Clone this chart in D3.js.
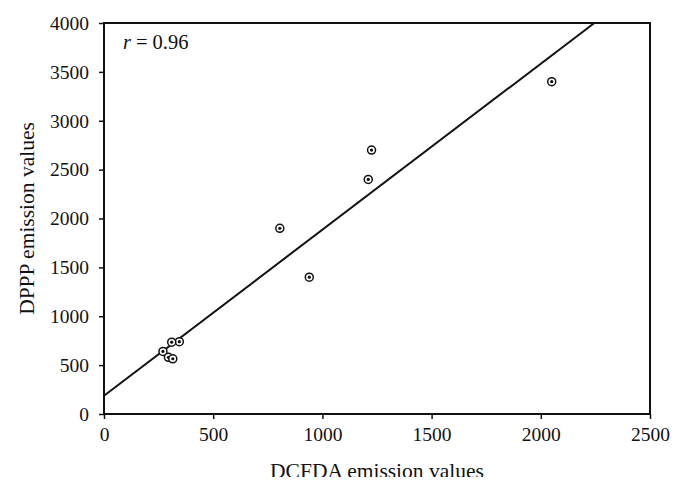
<!DOCTYPE html>
<html>
<head>
<meta charset="utf-8">
<title>DCFDA vs DPPP</title>
<style>
  body { margin: 0; background: #fff; }
  text { font-family: "Liberation Serif", "DejaVu Serif", serif; fill: #111; }
</style>
</head>
<body>
<div id="container"></div>
<script src="https://d3js.org/d3.v7.min.js"></script>
<script>
// data
var dcfda = [2050, 1225, 1210, 805, 940, 345, 310, 270, 295, 315]
var dppp  = [3400, 2700, 2400, 1900, 1400, 740, 735, 640, 580, 565]
var xTicks = [0, 500, 1000, 1500, 2000, 2500]
var yTicks = [0, 500, 1000, 1500, 2000, 2500, 3000, 3500, 4000]
var rLabel = '0.96'

var width = 683, height = 490
var m = {left: 104, right: 33, top: 23, bottom: 76}

var svg = d3.select('#container').append('svg')
    .attr('width', width)
    .attr('height', height)

// picture is cut off at the bottom
svg.append('clipPath').attr('id', 'cut')
  .append('rect').attr('x', 0).attr('y', 0).attr('width', width).attr('height', 477)

var root = svg.append('g').attr('clip-path', 'url(#cut)')

var x = d3.scaleLinear().domain([0, 2500]).range([m.left, width - m.right])
var y = d3.scaleLinear().domain([0, 4000]).range([height - m.bottom, m.top])

// frame
root.append('rect')
    .attr('x', x(0)).attr('y', y(4000))
    .attr('width', x(2500) - x(0)).attr('height', y(0) - y(4000))
    .attr('fill', 'none').attr('stroke', '#111').attr('stroke-width', 2)

var xAxis = root.append('g')
    .attr('transform', 'translate(0,' + y(0) + ')')
    .call(d3.axisBottom(x).tickValues(xTicks).tickFormat(d3.format('d')).tickSize(5).tickPadding(8))
var yAxis = root.append('g')
    .attr('transform', 'translate(' + x(0) + ',0)')
    .call(d3.axisLeft(y).tickValues(yTicks).tickFormat(d3.format('d')).tickSize(5).tickPadding(10))

;[xAxis, yAxis].forEach(function(a) {
  a.select('.domain').remove()
  a.selectAll('line').attr('stroke', '#111').attr('stroke-width', 1.5)
  a.selectAll('text').attr('font-size', 19.5).attr('fill', '#111')
      .attr('font-family', '"Liberation Serif", serif')
})

// least squares trend line
var mx = d3.mean(dcfda), my = d3.mean(dppp)
var sxy = d3.sum(dcfda, function(d, i) { return (d - mx) * (dppp[i] - my) })
var sxx = d3.sum(dcfda, function(d) { return (d - mx) * (d - mx) })
var slope = sxy / sxx, icpt = my - slope * mx
var xEnd = Math.min(2500, (4000 - icpt) / slope)

root.append('line')
    .attr('x1', x(0)).attr('y1', y(icpt))
    .attr('x2', x(xEnd)).attr('y2', y(icpt + slope * xEnd))
    .attr('stroke', '#111').attr('stroke-width', 2)

// points: ring with a dot
var pts = root.selectAll('g.pt')
    .data(dcfda.map(function(d, i) { return [d, dppp[i]] }))
    .enter().append('g').attr('class', 'pt')
    .attr('transform', function(d) { return 'translate(' + x(d[0]) + ',' + y(d[1]) + ')' })
pts.append('circle').attr('r', 4).attr('fill', '#fff').attr('stroke', '#111').attr('stroke-width', 1.5)
pts.append('circle').attr('r', 1.6).attr('fill', '#111')

// r label
var rt = root.append('text').attr('x', 123).attr('y', 49).attr('font-size', 20.5)
rt.append('tspan').attr('font-style', 'italic').text('r')
rt.append('tspan').attr('dx', 5).text('=')
rt.append('tspan').attr('dx', 5).text(rLabel)

// axis titles
root.append('text')
    .attr('x', (x(0) + x(2500)) / 2).attr('y', 478)
    .attr('text-anchor', 'middle').attr('font-size', 21.5)
    .text('DCFDA emission values')
root.append('text')
    .attr('transform', 'translate(34,' + (y(0) + y(4000)) / 2 + ') rotate(-90)')
    .attr('text-anchor', 'middle').attr('font-size', 21.5)
    .text('DPPP emission values')
</script>
</body>
</html>
